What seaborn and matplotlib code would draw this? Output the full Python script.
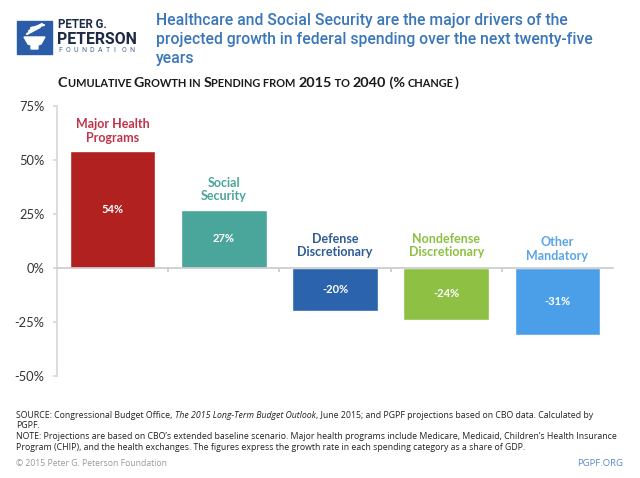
import matplotlib
matplotlib.use("Agg")
import matplotlib.pyplot as plt
import seaborn as sns
import numpy as np
from matplotlib.patches import Rectangle, Polygon

categories = ["Major Health\nPrograms", "Social\nSecurity", "Defense\nDiscretionary",
              "Nondefense\nDiscretionary", "Other\nMandatory"]
values = [54, 27, -20, -24, -31]
bar_labels = ["54%", "27%", "-20%", "-24%", "-31%"]
bar_colors = ["#B0211F", "#4AA59B", "#2B63AD", "#8DC043", "#4B9FE9"]
label_colors = ["#C0334A", "#4AA59B", "#2F5C94", "#8DC043", "#5AA5E3"]
yticks = [-50, -25, 0, 25, 50, 75]
ytick_labels = ["-50%", "-25%", "0%", "25%", "50%", "75%"]
title_lines = ["Healthcare and Social Security are the major drivers of the",
               "projected growth in federal spending over the next twenty-five",
               "years"]

sns.set_theme(style="white")
plt.rcParams['font.family'] = ['Lato', 'DejaVu Sans']

fig = plt.figure(figsize=(6.4, 4.78), dpi=100)
ax = fig.add_axes([57/640, 1-376/478, (613-57)/640, (376-106)/478])

sns.barplot(x=categories, y=values, hue=categories, palette=bar_colors,
            legend=False, width=0.77, saturation=1, ax=ax)
ax.set_xlim(-0.5, 4.5)
ax.set_ylim(-50, 75)
ax.set_yticks(yticks)
ax.set_yticklabels(ytick_labels, fontsize=9.3, color="#333333")
ax.set_xticks([0.5, 1.5, 2.5, 3.5])
ax.set_xticklabels([])
ax.set_xlabel("")
ax.set_ylabel("")
for s in ["top", "right"]:
    ax.spines[s].set_visible(False)
ax.spines["left"].set_color("#d8d8d8")
ax.spines["bottom"].set_position(("data", 0))
ax.spines["bottom"].set_color("#cccccc")
ax.tick_params(axis="y", length=3, color="#d8d8d8", pad=6, left=True)
ax.tick_params(axis="x", length=3, color="#cccccc", bottom=True, direction="out")

for i, (v, lab, cat, lc) in enumerate(zip(values, bar_labels, categories, label_colors)):
    ax.text(i, v/2, lab, ha="center", va="center", color="white",
            fontsize=8, fontweight="bold")
    base = max(v, 0)
    off = 3.5 if v > 0 else (4.5 if i < 4 else 3.0)
    ax.text(i, base + off, cat, ha="center", va="bottom", color=lc,
            fontsize=9, fontweight="bold", linespacing=1.15)

def fx(px):
    return px / 640
def fy(py):
    return 1 - py / 478

# Logo
fig.patches.append(Rectangle((fx(17), fy(54)), 35/640, 33/478,
                             transform=fig.transFigure, color="#2A5CA8"))
cup = Polygon([(fx(24), fy(37)), (fx(45), fy(37)), (fx(41), fy(44)), (fx(38), fy(45)),
               (fx(38), fy(49)), (fx(31), fy(49)), (fx(31), fy(45)), (fx(28), fy(44))],
              closed=True, transform=fig.transFigure, color="white")
fig.patches.append(cup)
for (x0, y0, x1, y1) in [(27, 34, 40, 27), (29, 31, 42, 24), (31, 28, 44, 25)]:
    fig.lines.append(plt.Line2D([fx(x0), fx(x1)], [fy(y0), fy(y1)], transform=fig.transFigure,
                                color="white", lw=1.6, solid_capstyle="round"))
fig.text(fx(58), fy(25), "PETER G.", fontsize=8.3, fontweight="bold",
         color="#1F2A44", va="center", family=["Roboto", "DejaVu Sans"])
fig.text(fx(57), fy(39), "PETERSON", fontsize=11.4, fontweight="bold",
         color="#1F2A44", va="center", family=["Roboto", "DejaVu Sans"])
for k, ch in enumerate("FOUNDATION"):
    fig.text(fx(58 + 7.9 * k), fy(51), ch, fontsize=5.0, color="#4A6A8F",
             va="center", ha="left", family=["Roboto", "DejaVu Sans"])

# Title
for k, line in enumerate(title_lines):
    fig.text(fx(156), fy(25 + 19 * k), line, fontsize=11.3, fontweight="medium",
             color="#3B77B8", va="baseline", ha="left", family=["Roboto", "DejaVu Sans"])

renderer = fig.canvas.get_renderer()

def run(pieces, x, y, **kw):
    for txt, props in pieces:
        d = dict(kw)
        d.update(props)
        t = fig.text(x, y, txt, va="baseline", ha="left", **d)
        bb = t.get_window_extent(renderer=renderer)
        x += bb.width / 640

# Subtitle in small caps
big, small = 10.4, 7.9
pieces = [("C", big), ("UMULATIVE ", small), ("G", big), ("ROWTH IN ", small), ("S", big),
          ("PENDING FROM ", small), ("2015", big), (" TO ", small), ("2040", big),
          (" (% ", big), ("CHANGE", small), (")", big)]
run([(t, {"fontsize": s}) for t, s in pieces], fx(58), fy(87),
    fontweight="bold", color="#1a1a1a", family=["Lato", "DejaVu Sans"])

# Footer
fkw = dict(fontsize=6.3, color="#222222", family=["Open Sans", "DejaVu Sans"])
run([("SOURCE: Congressional Budget Office, ", {}),
     ("The 2015 Long-Term Budget Outlook", {"style": "italic"}),
     (", June 2015; and PGPF projections based on CBO data. Calculated by", {})],
    fx(16), fy(418), **fkw)
fig.text(fx(16), fy(428.5), "PGPF.", va="baseline", ha="left", **fkw)
fig.text(fx(16), fy(439),
         "NOTE: Projections are based on CBO\u2019s extended baseline scenario. Major health programs include "
         "Medicare, Medicaid, Children\u2019s Health Insurance",
         va="baseline", ha="left", **fkw)
fig.text(fx(16), fy(449.5),
         "Program (CHIP), and the health exchanges. The figures express the growth rate in each spending "
         "category as a share of GDP.",
         va="baseline", ha="left", **fkw)
fig.text(fx(16), fy(463), "\u00a9 2015 Peter G. Peterson Foundation", fontsize=6.2,
         color="#999999", va="center", ha="left", family=["Open Sans", "DejaVu Sans"])
fig.text(fx(623), fy(463), "PGPF.ORG", fontsize=6.8, color="#5A8CC8",
         va="center", ha="right", family=["Open Sans", "DejaVu Sans"])

fig.savefig("out.png", dpi=100, facecolor="white")
